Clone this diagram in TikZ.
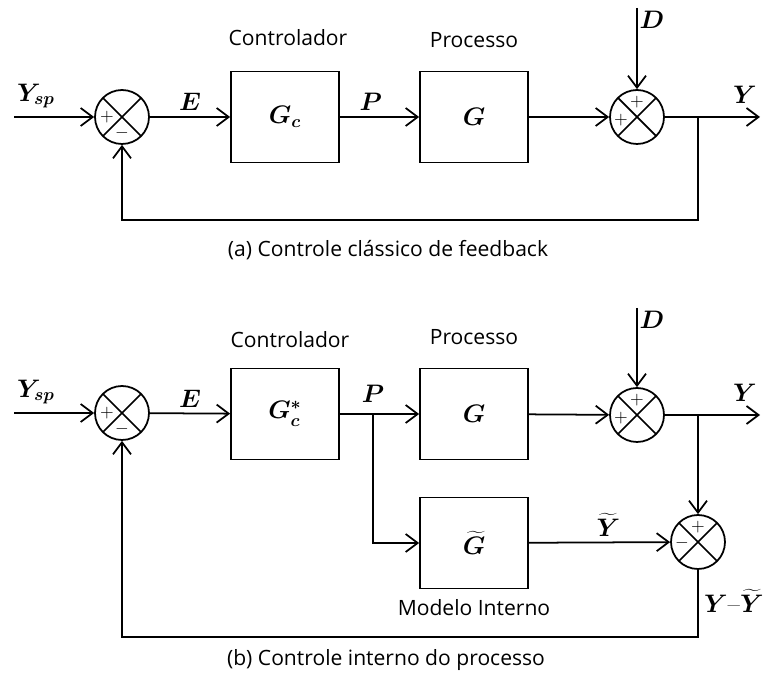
\documentclass[tikz,border=0pt]{standalone}
\usepackage{fontspec}
\newfontfamily\labelfont{Open Sans}
\usetikzlibrary{arrows.meta}

\tikzset{
  block/.style={draw, line width=1pt, minimum width=2.16cm, minimum height=1.82cm, font=\Large\boldmath},
  sumjct/.style={circle, draw, line width=1pt, minimum size=1.08cm, inner sep=0pt,
    path picture={\draw[line width=1pt] (path picture bounding box.north west) -- (path picture bounding box.south east)
      (path picture bounding box.north east) -- (path picture bounding box.south west);}},
  sign/.style={font=\normalsize, inner sep=0pt},
  sig/.style={font=\Large\boldmath, inner sep=1pt},
  txt/.style={font=\labelfont\fontsize{12}{14}\selectfont},
  wire/.style={line width=1pt},
  >={Straight Barb[length=2.4mm,width=3.6mm]}
}

\begin{document}
\begin{tikzpicture}[x=0.02cm, y=-0.02cm]
    \useasboundingbox (0,0) rectangle (765,675);

    % (a) Blocks
    \node[sumjct] (a-s1) at (122,117) {};
    \node[block] (a-gc) at (285,117) {$G_c$};
    \node[block] (a-g) at (474,117) {$G$};
    \node[sumjct] (a-s2) at (637,117) {};
    \node[txt] (a-ctl) at (288,38) {Controlador};
    \node[txt] (a-prc) at (474,40) {Processo};

    % (a) Signs
    \node[sign] (a-p1) at (107,117) {$+$};
    \node[sign] (a-m1) at (122,133) {$-$};
    \node[sign] (a-p2) at (637,102) {$+$};
    \node[sign] (a-p3) at (621,120) {$+$};

    % (a) Free ends
    \coordinate (a-in) at (14,117);
    \coordinate (a-d) at (637,8);
    \coordinate (a-out) at (760,117);
    \coordinate (a-br) at (698,117);
    \coordinate (a-fb) at (698,220);

    % (a) Signals
    \draw[wire, ->] (a-in) -- (a-s1);
    \node[sig] (a-ysp) at (36,96) {$Y_{sp}$};
    \draw[wire, ->] (a-s1) -- (a-gc) node[sig, midway, above=2pt] (a-e) {$E$};
    \draw[wire, ->] (a-gc) -- (a-g) node[sig, midway, above=2pt, xshift=-5pt] (a-pp) {$P$};
    \draw[wire, ->] (a-g) -- (a-s2);
    \draw[wire, ->] (a-d) -- (a-s2);
    \node[sig] (a-dl) at (652,20) {$D$};
    \draw[wire, ->] (a-s2) -- (a-out);
    \node[sig] (a-y) at (745,95) {$Y$};

    % (a) Feedback
    \draw[wire, ->] (a-br) -- (a-fb) -| (a-s1);
    \node[txt] (a-cap) at (388,250) {(a) Controle clássico de feedback};

    % (b) Blocks
    \node[sumjct] (b-s1) at (122,413) {};
    \node[block] (b-gc) at (285,414) {$G_c^*$};
    \node[block] (b-g) at (474,414) {$G$};
    \node[block] (b-gt) at (474,543) {$\widetilde{G}$};
    \node[sumjct] (b-s2) at (637,415) {};
    \node[sumjct] (b-s3) at (698,542) {};
    \node[txt] (b-ctl) at (290,340) {Controlador};
    \node[txt] (b-prc) at (474,337) {Processo};
    \node[txt] (b-mod) at (474,608) {Modelo Interno};

    % (b) Signs
    \node[sign] (b-p1) at (107,413) {$+$};
    \node[sign] (b-m1) at (122,429) {$-$};
    \node[sign] (b-p2) at (637,400) {$+$};
    \node[sign] (b-p3) at (621,418) {$+$};
    \node[sign] (b-p4) at (698,527) {$+$};
    \node[sign] (b-m4) at (682,543) {$-$};

    % (b) Free ends
    \coordinate (b-in) at (14,413);
    \coordinate (b-d) at (637,308);
    \coordinate (b-out) at (760,415);
    \coordinate (b-br1) at (373,414);
    \coordinate (b-br2) at (698,415);
    \coordinate (b-fb) at (698,637);

    % (b) Signals
    \draw[wire, ->] (b-in) -- (b-s1);
    \node[sig] (b-ysp) at (36,392) {$Y_{sp}$};
    \draw[wire, ->] (b-s1) -- (b-gc) node[sig, midway, above=2pt] (b-e) {$E$};
    \draw[wire, ->] (b-gc) -- (b-g);
    \node[sig] (b-pp) at (373,394) {$P$};
    \draw[wire, ->] (b-br1) |- (b-gt);
    \draw[wire, ->] (b-g) -- (b-s2);
    \draw[wire, ->] (b-d) -- (b-s2);
    \node[sig] (b-dl) at (652,320) {$D$};
    \draw[wire, ->] (b-s2) -- (b-out);
    \node[sig] (b-y) at (745,393) {$Y$};
    \draw[wire, ->] (b-br2) -- (b-s3);
    \draw[wire, ->] (b-gt) -- (b-s3) node[sig, midway, above=2pt, xshift=5pt] (b-yt) {$\widetilde{Y}$};

    % (b) Feedback
    \draw[wire, ->] (b-s3) -- (b-fb) -| (b-s1);
    \node[sig, anchor=west] (b-err) at (702,601) {$Y$–$\widetilde{Y}$};
    \node[txt] (b-cap) at (386,660) {(b) Controle interno do processo};
\end{tikzpicture}
\end{document}
